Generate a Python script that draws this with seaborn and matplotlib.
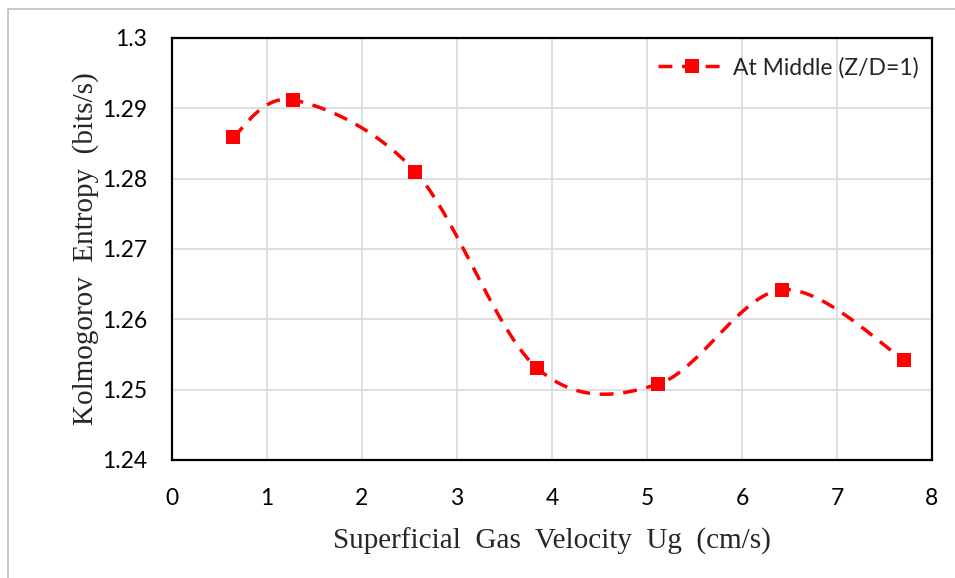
import numpy as np
import pandas as pd
import matplotlib
matplotlib.use("Agg")
import matplotlib.pyplot as plt
import seaborn as sns
from matplotlib.lines import Line2D
from matplotlib.patches import Rectangle

# values
ug = [0.64, 1.27, 2.56, 3.84, 5.12, 6.42, 7.71]
entropy = [1.2859, 1.2912, 1.2810, 1.2531, 1.2508, 1.2642, 1.2542]
series_name = "At Middle (Z/D=1)"
x_ticks = [0, 1, 2, 3, 4, 5, 6, 7, 8]
y_ticks = [1.24, 1.25, 1.26, 1.27, 1.28, 1.29, 1.3]
y_tick_labels = ["1.24", "1.25", "1.26", "1.27", "1.28", "1.29", "1.3"]


def excel_smooth(xs, ys, n=40):
    # bezier smoothing like Excel's "smoothed line" (catmull-rom style control points)
    p = np.column_stack([xs, ys]).astype(float)
    p_ext = np.vstack([p[0], p, p[-1]])
    out = []
    for i in range(1, len(p_ext) - 2):
        p0, p1, p2, p3 = p_ext[i - 1], p_ext[i], p_ext[i + 1], p_ext[i + 2]
        c1 = p1 + (p2 - p0) / 6
        c2 = p2 - (p3 - p1) / 6
        t = np.linspace(0, 1, n)[:, None]
        seg = ((1 - t) ** 3) * p1 + 3 * ((1 - t) ** 2) * t * c1 + 3 * (1 - t) * t ** 2 * c2 + t ** 3 * p2
        out.append(seg if i == 1 else seg[1:])
    return np.vstack(out)


sns.set_style("white")
plt.rcParams["font.family"] = ["Lato", "DejaVu Sans"]

fig = plt.figure(figsize=(9.55, 5.78), dpi=100)
ax = fig.add_axes([0.1801, 0.2042, 0.7958, 0.7301])

curve = excel_smooth(ug, entropy)
curve_df = pd.DataFrame({"x": curve[:, 0], "y": curve[:, 1]})
pts = pd.DataFrame({"x": ug, "y": entropy})

red = "#ff0000"
sns.lineplot(data=curve_df, x="x", y="y", ax=ax, color=red, lw=2.5,
             sort=False, estimator=None, dashes=False, zorder=3)
ax.lines[-1].set_dashes((4, 2.8))
sns.scatterplot(data=pts, x="x", y="y", ax=ax, color=red, marker="s",
                s=115, edgecolor=red, linewidth=0, zorder=4)

ax.set_xlim(0, 8)
ax.set_ylim(1.24, 1.3)
ax.set_xticks(x_ticks)
ax.set_yticks(y_ticks)
ax.set_yticklabels(y_tick_labels)
ax.tick_params(axis="both", labelsize=16.5, length=0, colors="black")
ax.tick_params(axis="x", pad=20)
ax.tick_params(axis="y", pad=18)
ax.grid(True, color="#d9d9d9", lw=1.2)
for sp in ax.spines.values():
    sp.set_color("black")
    sp.set_linewidth(1.6)

ax.set_xlabel("Superficial  Gas  Velocity  Ug  (cm/s)", family="Liberation Serif",
              fontsize=21, labelpad=14)
ax.set_ylabel("Kolmogorov  Entropy  (bits/s)", family="Liberation Serif",
              fontsize=21, labelpad=2)

handle = Line2D([], [], color=red, lw=2.5, dashes=(4, 2.8), marker="s",
                markersize=10.5, markeredgewidth=0)
ax.legend([handle], [series_name], loc="upper right", frameon=False,
          fontsize=16.5, handlelength=3.0, handletextpad=0.3,
          bbox_to_anchor=(1.01, 1.004))

fig.patches.append(Rectangle((8 / 955, -0.05), 1.2, 1 - 9 / 578 + 0.05,
                             transform=fig.transFigure, fill=False,
                             edgecolor="#bfbfbf", lw=1.2))

fig.savefig("out.png", dpi=100)
